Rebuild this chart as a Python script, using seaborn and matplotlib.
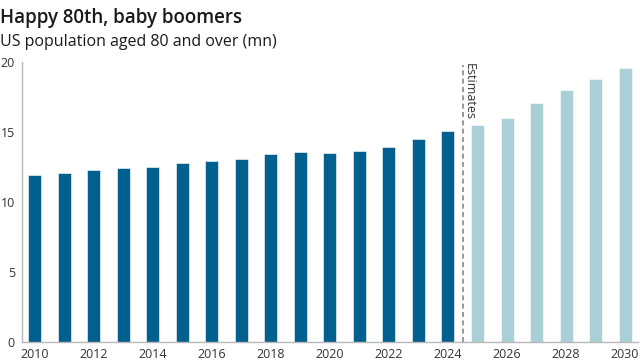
import numpy as np
import pandas as pd
import matplotlib
matplotlib.use("Agg")
from matplotlib import pyplot as plt
import seaborn as sns

years = list(range(2010, 2031))
population = [11.9, 12.1, 12.3, 12.4, 12.5, 12.75, 12.9, 13.1, 13.4, 13.6,
              13.5, 13.65, 13.9, 14.5, 15.05,
              15.5, 16.0, 17.05, 18.0, 18.75, 19.6]
kind = ["Actual"] * 15 + ["Estimate"] * 6
tick_years = [str(y) for y in range(2010, 2031, 2)]

df = pd.DataFrame({"year": years, "pop": population, "kind": kind})

sns.set_style("white")
plt.rcParams['font.family'] = ['Open Sans', 'DejaVu Sans']

fig = plt.figure(figsize=(6.4, 3.62), dpi=100)
ax = fig.add_axes([0.034, 0.055, 0.963, 0.774])

sns.barplot(data=df, x="year", y="pop", hue="kind", dodge=False, legend=False,
            palette={"Actual": "#02608f", "Estimate": "#abcfd6"}, saturation=1,
            width=0.44, edgecolor="white", linewidth=0.4, ax=ax)

ax.set_xlim(-0.44, 20.44)
ax.set_ylim(0, 20)
ax.set_yticks([0, 5, 10, 15, 20])
ax.set_xticks(range(0, 21, 2))
ax.set_xticklabels(tick_years)
ax.set_xlabel("")
ax.set_ylabel("")

for s in ["top", "right"]:
    ax.spines[s].set_visible(False)
for s in ["left", "bottom"]:
    ax.spines[s].set_color("#b8b8b8")
    ax.spines[s].set_linewidth(1)
ax.tick_params(axis="y", length=3, color="#b8b8b8", labelsize=9, labelcolor="#333333", pad=2)
ax.tick_params(axis="x", length=0, labelsize=9, labelcolor="#333333", pad=4)

# estimates divider
ax.axvline(14.5, ymin=0, ymax=0.99, color="#888888", linestyle=(0, (3, 2)), linewidth=1.2)
ax.text(14.72, 19.95, "Estimates", rotation=270, ha="center", va="top",
        fontsize=9, color="#333333")

fig.text(0.0, 0.978, "Happy 80th, baby boomers", fontsize=13.5, color="#1a1a1a",
         va="top", weight="semibold")
fig.text(0.0, 0.905, "US population aged 80 and over (mn)", fontsize=11.5, color="#1a1a1a", va="top")

fig.savefig("out.png", dpi=100)
plt.close(fig)
